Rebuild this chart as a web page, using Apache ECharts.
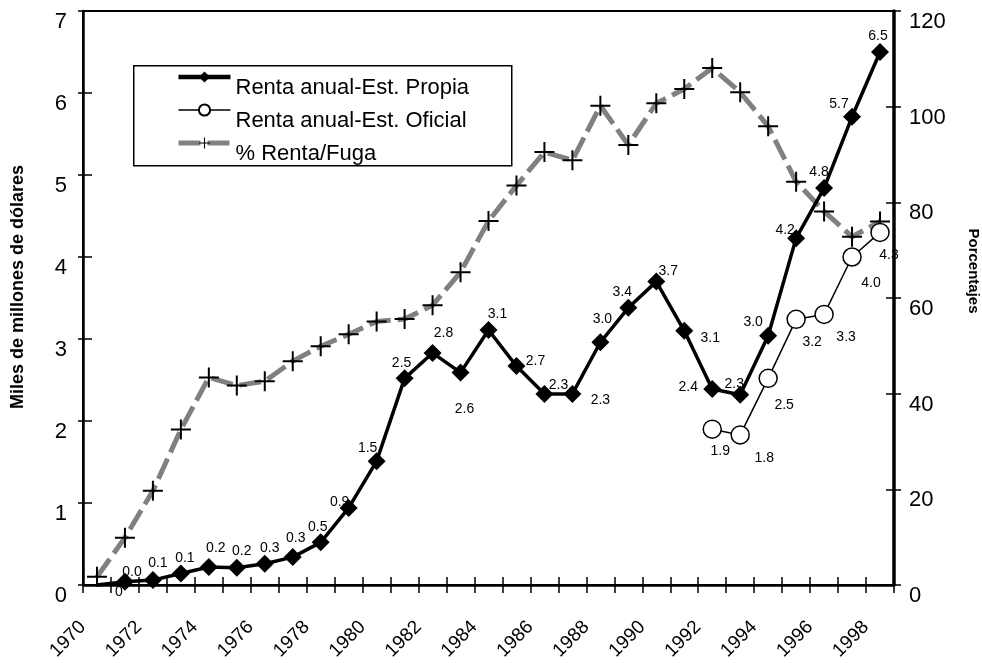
<!DOCTYPE html>
<html>
<head>
<meta charset="utf-8">
<script src="https://cdn.jsdelivr.net/npm/echarts@6/dist/echarts.min.js"></script>
<style>
html,body{margin:0;padding:0;background:#fff;}
#chart{width:982px;height:663px;}
</style>
</head>
<body>
<div id="chart"></div>
<script>
const years = ['1970','1971','1972','1973','1974','1975','1976','1977','1978','1979','1980','1981','1982','1983','1984','1985','1986','1987','1988','1989','1990','1991','1992','1993','1994','1995','1996','1997','1998'];
const propia = [0, 0.04, 0.06, 0.14, 0.22, 0.21, 0.26, 0.34, 0.52, 0.94, 1.51, 2.52, 2.83, 2.59, 3.11, 2.67, 2.33, 2.33, 2.96, 3.38, 3.70, 3.10, 2.39, 2.32, 3.04, 4.23, 4.84, 5.71, 6.50];
const oficial = [null, null, null, null, null, null, null, null, null, null, null, null, null, null, null, null, null, null, null, null, null, null, 1.90, 1.83, 2.52, 3.24, 3.30, 4.00, 4.30];
const pctRentaFuga = [1.7, 9.9, 19.7, 32.5, 43.4, 41.7, 42.6, 46.8, 49.9, 52.4, 55.1, 55.6, 58.5, 65.4, 76.1, 83.5, 90.5, 88.8, 100.2, 92.0, 100.7, 103.7, 108.1, 103.0, 95.9, 84.3, 78.1, 72.8, 76.0];
const leftTicks = { min: 0, max: 7, interval: 1 };
const rightTicks = { min: 0, max: 120, interval: 20 };
const seriesNames = ['Renta anual-Est. Propia', 'Renta anual-Est. Oficial', '% Renta/Fuga'];

// label placement (styling only)
const propiaLabelOffset = [[22,7],[7,-10],[5,-17],[4,-15],[7,-19],[5,-17],[5,-16],[3,-19],[-3,-15],[-9,-6],[-9,-13],[-3,-15],[11,-20],[4,37],[9,-16],[19,-5],[14,-9],[28,6],[2,-23],[-6,-16],[12,-10],[26,7],[-24,-2],[-6,-11],[-15,-14],[-11,-8],[-5,-16],[-13,-13],[-2,-16]];
const oficialLabelOffset = [[8,22],[24,23],[16,27],[16,23],[22,23],[19,26],[9,23]];

const FONT = "'Liberation Sans', Arial, sans-serif";
const fmt = v => (v === 0 ? '0' : v.toFixed(1));
const plusPath = 'path://M9,0h2v9h9v2h-9v9h-2v-9h-9v-2h9z';

const propiaData = propia.map((v, i) => ({
  value: v,
  symbolSize: i === 0 ? 1 : 18,
  label: { offset: propiaLabelOffset[i] }
}));
let oi = 0;
const oficialData = oficial.map(v => {
  if (v === null) return null;
  const o = oficialLabelOffset[oi++];
  return { value: v, label: { offset: o } };
});

const chart = echarts.init(document.getElementById('chart'), null, { renderer: 'canvas' });
const axisBase = {
  axisLine: { show: false }, axisLabel: { show: false }, splitLine: { show: false }
};
chart.setOption({
  animation: false,
  backgroundColor: '#fff',
  textStyle: { fontFamily: FONT, color: '#000' },
  grid: { left: 83, right: 88, top: 11, bottom: 78, containLabel: false, outerBoundsMode: 'none',
          show: true, borderColor: '#000', borderWidth: 2, backgroundColor: 'transparent' },
  graphic: [{
    type: 'rect', left: 133, top: 65, z: 1,
    shape: { width: 378, height: 100 },
    style: { fill: '#fff', stroke: '#000', lineWidth: 1.5 }
  }],
  legend: {
    data: [
      { name: seriesNames[0], lineStyle: { width: 4.5, color: '#000' } },
      { name: seriesNames[1], lineStyle: { width: 1.5, color: '#000' } },
      { name: seriesNames[2], lineStyle: { width: 5, color: '#808080' } }
    ],
    orient: 'vertical',
    left: 176, top: 54,
    padding: 0,
    itemWidth: 52, itemHeight: 14, itemGap: -12,
    z: 5,
    formatter: name => '{s| }\n{n|' + name + '}',
    textStyle: {
      fontFamily: FONT, fontSize: 22, color: '#000',
      rich: {
        s: { fontSize: 10, lineHeight: 22, height: 22 },
        n: { fontFamily: FONT, fontSize: 22, lineHeight: 24, color: '#000' }
      }
    }
  },
  xAxis: [{
    type: 'category', data: years, boundaryGap: true, position: 'bottom',
    axisLine: { show: true, lineStyle: { color: '#000', width: 2.5 } },
    axisTick: { show: true, interval: 0, length: 8, lineStyle: { color: '#000', width: 1.5 } },
    axisLabel: { interval: 1, rotate: 45, fontSize: 19, color: '#000', fontFamily: FONT, margin: 25, padding: [0, 20, 0, 0] },
    splitLine: { show: false }
  }, Object.assign({
    type: 'category', data: years, boundaryGap: true, position: 'bottom',
    axisTick: { show: true, inside: true, interval: 0, length: 8, lineStyle: { color: '#000', width: 1.5 } }
  }, axisBase)],
  yAxis: [{
    type: 'value', position: 'left', min: leftTicks.min, max: leftTicks.max, interval: leftTicks.interval,
    name: 'Miles de millones de dólares', nameLocation: 'middle', nameRotate: 90, nameGap: 56,
    nameTextStyle: { fontFamily: FONT, fontSize: 18, fontWeight: 'bold', color: '#000', padding: [0, 0, 0, 22] },
    axisLine: { show: true, lineStyle: { color: '#000', width: 2.5 } },
    axisTick: { show: true, length: 5, lineStyle: { color: '#000', width: 1.5 } },
    axisLabel: { fontSize: 22, color: '#000', fontFamily: FONT, margin: 16, verticalAlign: 'top' },
    splitLine: { show: false }
  }, {
    type: 'value', position: 'right', min: rightTicks.min, max: rightTicks.max, interval: rightTicks.interval,
    name: 'Porcentajes', nameLocation: 'middle', nameRotate: -90, nameGap: 72,
    nameTextStyle: { fontFamily: FONT, fontSize: 15, fontWeight: 'bold', color: '#000', padding: [0, 54, 0, 0] },
    axisLine: { show: true, lineStyle: { color: '#000', width: 3.5 } },
    axisTick: { show: true, length: 7, lineStyle: { color: '#000', width: 1.5 } },
    axisLabel: { fontSize: 22, color: '#000', fontFamily: FONT, margin: 15, verticalAlign: 'top' },
    splitLine: { show: false }
  }, Object.assign({
    type: 'value', position: 'left', min: leftTicks.min, max: leftTicks.max, interval: leftTicks.interval,
    axisTick: { show: true, inside: true, length: 9, lineStyle: { color: '#000', width: 1.5 } }
  }, axisBase), Object.assign({
    type: 'value', position: 'right', min: rightTicks.min, max: rightTicks.max, interval: rightTicks.interval,
    axisTick: { show: true, inside: true, length: 8, lineStyle: { color: '#000', width: 1.5 } }
  }, axisBase)],
  series: [{
    name: seriesNames[2], type: 'line', yAxisIndex: 1, data: pctRentaFuga,
    symbol: plusPath, symbolSize: 20, showAllSymbol: true,
    itemStyle: { color: '#000' },
    lineStyle: { color: '#808080', width: 5, type: [22, 7] },
    z: 2
  }, {
    name: seriesNames[1], type: 'line', yAxisIndex: 0, data: oficialData,
    symbol: 'circle', symbolSize: 18, showAllSymbol: true,
    itemStyle: { color: '#fff', borderColor: '#000', borderWidth: 1.5 },
    lineStyle: { color: '#000', width: 1.5 },
    label: { show: true, position: 'inside', fontSize: 14, color: '#000', fontFamily: FONT,
             formatter: p => fmt(p.value) },
    z: 3
  }, {
    name: seriesNames[0], type: 'line', yAxisIndex: 0, data: propiaData,
    symbol: 'diamond', symbolSize: 18, showAllSymbol: true,
    itemStyle: { color: '#000' },
    lineStyle: { color: '#000', width: 3.5 },
    label: { show: true, position: 'inside', fontSize: 14, color: '#000', fontFamily: FONT,
             formatter: p => fmt(p.value) },
    z: 4
  }]
});
</script>
</body>
</html>
